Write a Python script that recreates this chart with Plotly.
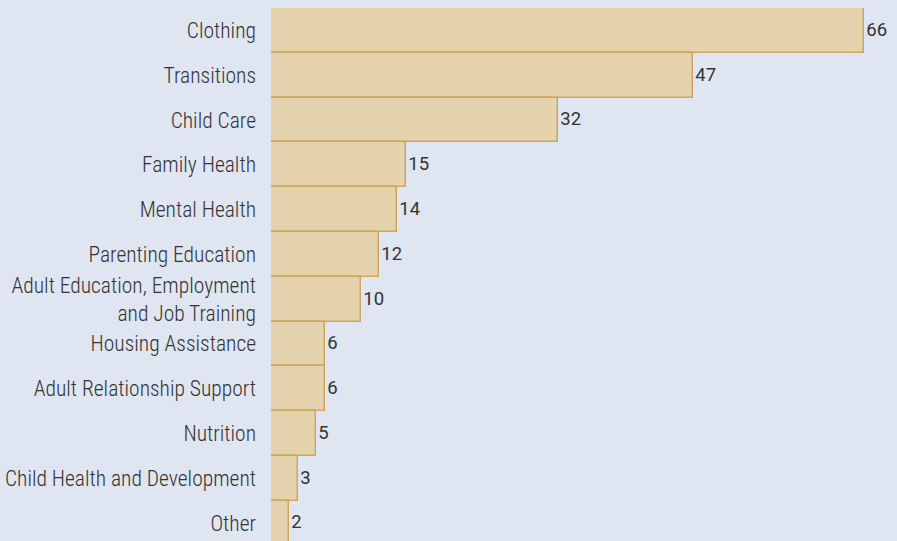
import plotly.graph_objects as go

categories = ["Clothing", "Transitions", "Child Care", "Family Health", "Mental Health",
              "Parenting Education", "Adult Education, Employment<br>and Job Training",
              "Housing Assistance", "Adult Relationship Support", "Nutrition",
              "Child Health and Development", "Other"]
values = [66, 47, 32, 15, 14, 12, 10, 6, 6, 5, 3, 2]

LABEL_FONT = "Roboto Condensed, Liberation Sans Narrow, Liberation Sans, sans-serif"

fig = go.Figure(go.Bar(
    x=values, y=categories, orientation="h",
    marker=dict(color="#e4d3ac", line=dict(color="#d0a65e", width=1.5)),
    text=[str(v) for v in values], textposition="outside", constraintext="none",
    textfont=dict(family="Roboto, Liberation Sans, sans-serif", size=18.5, color="#333333"),
    cliponaxis=False,
))

fig.update_layout(
    width=897, height=541,
    margin=dict(l=271, r=0, t=8, b=0),
    paper_bgcolor="#dfe5f1", plot_bgcolor="#dfe5f1",
    bargap=0, showlegend=False,
    font=dict(family=LABEL_FONT, size=21.5, color="#333333"),
)
fig.update_xaxes(range=[0, 69.7], visible=False, showgrid=False, zeroline=False)
fig.update_yaxes(type="category", range=[11.4, -0.5], showgrid=False, zeroline=False,
                 showline=False, ticks="", ticklabelstandoff=14,
                 tickfont=dict(family=LABEL_FONT, size=21.5, color="#333333", weight=300))

fig.write_html("out.html", config={"displayModeBar": False},
               post_script="document.body.style.margin='0';document.body.style.background='#dfe5f1';")
